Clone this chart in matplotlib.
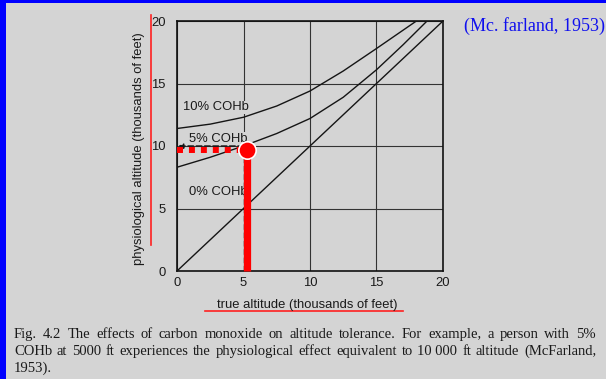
import matplotlib
matplotlib.use("Agg")
import matplotlib.pyplot as plt
from matplotlib.patches import Rectangle

# ---------------- data ----------------
ticks = [0, 5, 10, 15, 20]
tick_labels = ["0", "5", "10", "15", "20"]

x_0pct = [0, 20]
y_0pct = [0, 20]

x_5pct = [0, 2.5, 5, 7.5, 10, 12.5, 15, 17, 18.8]
y_5pct = [8.3, 9.1, 10.0, 11.0, 12.2, 13.9, 16.1, 18.1, 20.0]

x_10pct = [0, 2.5, 5, 7.5, 10, 12.5, 15, 16.5, 18.0]
y_10pct = [11.4, 11.75, 12.3, 13.2, 14.4, 16.0, 17.8, 18.9, 20.0]

curve_labels = ["10% COHb", "5% COHb", "0% COHb"]
label_x = [0.45, 0.9, 0.9]
label_y = [13.1, 10.6, 6.3]

# example reading: 5000 ft true altitude -> 10 000 ft physiological
example_x = 5
example_y = 10
marker_x = 5.25
marker_y = 9.7

xlabel = "true altitude (thousands of feet)"
ylabel = "physiological altitude (thousands of feet)"
citation = "(Mc. farland, 1953)"
caption_lines = [
    "Fig. 4.2 The effects of carbon monoxide on altitude tolerance. For example, a person with 5%",
    "COHb at 5000 ft experiences the physiological effect equivalent to 10\u00a0000 ft altitude (McFarland,",
    "1953).",
]

# ---------------- figure ----------------
W, H = 606, 379
BG = "#d4d4d4"
fig = plt.figure(figsize=(W / 100, H / 100), dpi=100, facecolor=BG)


def fx(px):
    return px / W


def fy(py):
    return 1 - py / H


# blue frame
fig.patches.append(Rectangle((0, 0), fx(6), 1, transform=fig.transFigure,
                             facecolor="#0000ff", edgecolor="none", zorder=0))
fig.patches.append(Rectangle((0, fy(3)), 1, 3 / H, transform=fig.transFigure,
                             facecolor="#0000ff", edgecolor="none", zorder=0))

ax = fig.add_axes([fx(177), fy(271), (443 - 177) / W, (271 - 21) / H])
ax.set_facecolor("none")
ax.set_xlim(0, 20)
ax.set_ylim(0, 20)
ax.set_xticks(ticks)
ax.set_yticks(ticks)
ax.set_xticklabels(tick_labels, family="Liberation Sans", fontsize=9.4, color="#1a1a1a")
ax.set_yticklabels(tick_labels, family="Liberation Sans", fontsize=9.4, color="#1a1a1a")
ax.tick_params(axis="x", length=0, pad=4)
ax.tick_params(axis="y", length=0, pad=8)
for s in ax.spines.values():
    s.set_linewidth(1.2)
    s.set_color("#111111")
ax.grid(True, color="#333333", linewidth=0.8)
ax.set_axisbelow(True)

lc = "#151515"
ax.plot(x_0pct, y_0pct, color=lc, lw=1.0, zorder=3)
ax.plot(x_5pct, y_5pct, color=lc, lw=1.0, zorder=3)
ax.plot(x_10pct, y_10pct, color=lc, lw=1.0, zorder=3)

for t, tx, ty in zip(curve_labels, label_x, label_y):
    ax.text(tx, ty, t, family="Liberation Sans", fontsize=9.4, color="#1a1a1a",
            ha="left", va="center", zorder=4,
            bbox=dict(facecolor=BG, edgecolor="none", pad=0.5))

# original black dashed guide lines with arrow
ax.plot([example_x, example_x], [0, example_y], color=lc, lw=1.0, ls=(0, (4, 2)), zorder=4)
ax.annotate("", xy=(0.1, example_y), xytext=(example_x, example_y),
            arrowprops=dict(arrowstyle="-|>", color=lc, lw=1.0, ls=(0, (4, 2)),
                            mutation_scale=7, shrinkA=0, shrinkB=0), zorder=4)

# red highlight
ax.plot([marker_x, marker_x], [0, marker_y], color="#ff0000", lw=5.2,
        solid_capstyle="butt", zorder=6, clip_on=False)
ax.plot([0, marker_x], [marker_y, marker_y], color="#ff0000", lw=4.3,
        ls=(0, (1, 1)), dash_capstyle="butt", zorder=6, clip_on=False)
ax.plot([marker_x], [marker_y], marker="o", ms=12.5, mfc="#ff0000", mec="white",
        mew=1.2, zorder=7, clip_on=False)

# axis labels (figure coords)
fig.text(fx(139), fy(149), ylabel, rotation=90, family="Liberation Sans",
         fontsize=9.4, color="#1a1a1a", ha="center", va="center")
fig.text(fx(307), fy(305), xlabel, family="Liberation Sans",
         fontsize=9.4, color="#1a1a1a", ha="center", va="center")
# red underline marks
fig.lines.append(plt.Line2D([fx(151), fx(151)], [fy(15), fy(245)],
                            transform=fig.transFigure, color="#ff2020", lw=1.2))
fig.lines.append(plt.Line2D([fx(205), fx(403)], [fy(311), fy(311)],
                            transform=fig.transFigure, color="#ff2020", lw=1.2))

# citation
fig.text(fx(605), fy(31), citation, family="Liberation Serif", fontsize=13,
         color="#1010ee", ha="right", va="baseline")

# caption, justified
renderer = fig.canvas.get_renderer()
cap_kw = dict(family="Liberation Serif", fontsize=10.5, color="#1a1a1a", va="baseline")
x0, x1 = 14, 596
baselines = [338, 355, 372]
for i, (line, by) in enumerate(zip(caption_lines, baselines)):
    words = line.split(" ")
    if i == len(caption_lines) - 1:
        fig.text(fx(x0), fy(by), line, ha="left", **cap_kw)
        continue
    txts = [fig.text(0, fy(by), w, ha="left", **cap_kw) for w in words]
    widths = [t.get_window_extent(renderer).width for t in txts]
    gap = (x1 - x0 - sum(widths)) / (len(words) - 1)
    cx = x0
    for t, w in zip(txts, widths):
        t.set_x(fx(cx))
        cx += w + gap

fig.savefig("out.png", dpi=100, facecolor=BG)
